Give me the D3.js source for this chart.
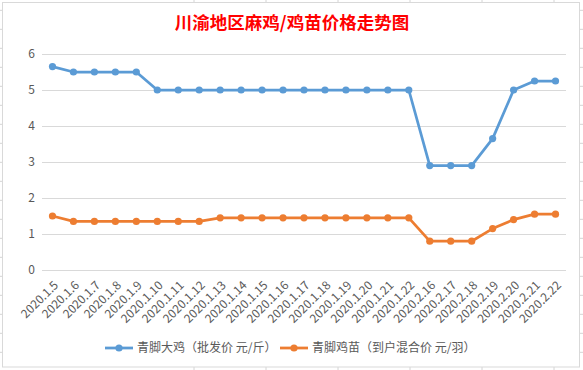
<!DOCTYPE html>
<html>
<head>
<meta charset="utf-8">
<script src="https://cdn.jsdelivr.net/npm/d3@7"></script>
<style>
  body { margin: 0; background: #fff; }
  svg { display: block; font-family: "Noto Sans CJK SC", "Noto Sans", sans-serif; }
</style>
</head>
<body>
<script>
var width = 583;
var height = 370;

// data
var dates = ["2020.1.5", "2020.1.6", "2020.1.7", "2020.1.8", "2020.1.9", "2020.1.10",
             "2020.1.11", "2020.1.12", "2020.1.13", "2020.1.14", "2020.1.15", "2020.1.16",
             "2020.1.17", "2020.1.18", "2020.1.19", "2020.1.20", "2020.1.21", "2020.1.22",
             "2020.2.16", "2020.2.17", "2020.2.18", "2020.2.19", "2020.2.20", "2020.2.21", "2020.2.22"];
var bigChicken = [5.65, 5.5, 5.5, 5.5, 5.5, 5.0, 5.0, 5.0, 5.0, 5.0, 5.0, 5.0,
                  5.0, 5.0, 5.0, 5.0, 5.0, 5.0, 2.9, 2.9, 2.9, 3.65, 5.0, 5.25, 5.25];
var chicks = [1.5, 1.35, 1.35, 1.35, 1.35, 1.35, 1.35, 1.35, 1.45, 1.45, 1.45, 1.45,
              1.45, 1.45, 1.45, 1.45, 1.45, 1.45, 0.8, 0.8, 0.8, 1.15, 1.4, 1.55, 1.55];
var yTicks = [0, 1, 2, 3, 4, 5, 6];
var seriesNames = ["青脚大鸡（批发价 元/斤）", "青脚鸡苗（到户混合价 元/羽）"];
var colors = ["#5b9bd5", "#ed7d31"];

var svg = d3.select("body").append("svg")
            .attr("width", width)
            .attr("height", height);

// spreadsheet cell lines peeking around the chart
var cellRows = d3.range(10.3, height, 19);
svg.selectAll(".cellL").data(cellRows).enter().append("line")
   .attr("x1", 0).attr("x2", 2.5).attr("y1", d => d).attr("y2", d => d)
   .attr("stroke", "#d4d4d4");
svg.selectAll(".cellR").data(cellRows).enter().append("line")
   .attr("x1", 580).attr("x2", 583).attr("y1", d => d).attr("y2", d => d)
   .attr("stroke", "#d4d4d4");
var cellCols = [194, 266, 338, 410, 482, 554];
svg.selectAll(".cellT").data(cellCols).enter().append("line")
   .attr("x1", d => d).attr("x2", d => d).attr("y1", 0).attr("y2", 2.5)
   .attr("stroke", "#d4d4d4");
svg.selectAll(".cellB").data(cellCols).enter().append("line")
   .attr("x1", d => d).attr("x2", d => d).attr("y1", 367).attr("y2", 370)
   .attr("stroke", "#d4d4d4");

// chart frame
svg.append("rect")
   .attr("x", 2.5).attr("y", 2.5)
   .attr("width", 577).attr("height", 364.5)
   .attr("fill", "#fff")
   .attr("stroke", "#d9d9d9");

// title
svg.append("text")
   .attr("x", 292).attr("y", 29)
   .attr("text-anchor", "middle")
   .attr("fill", "#ff0000")
   .attr("font-weight", "bold")
   .attr("font-size", 17.5)
   .text("川渝地区麻鸡/鸡苗价格走势图");

var x = d3.scalePoint().domain(dates).range([42, 566]).padding(0.5);
var y = d3.scaleLinear().domain([0, 6]).range([270, 54]);

// gridlines
svg.selectAll(".grid").data(yTicks).enter().append("line")
   .attr("x1", 42).attr("x2", 566)
   .attr("y1", d => y(d) + 0.5).attr("y2", d => y(d) + 0.5)
   .attr("stroke", "#d9d9d9").attr("stroke-width", 1);

// y axis labels
var yAxis = svg.append("g")
   .attr("transform", "translate(35,0)")
   .call(d3.axisLeft(y).tickValues(yTicks).tickFormat(d3.format("d")).tickSize(0).tickPadding(0));
yAxis.select(".domain").remove();
yAxis.selectAll("text").attr("fill", "#595959").attr("font-size", 12)
   .attr("font-family", "'Noto Sans CJK SC', sans-serif");

// x axis labels, rotated
var xAxis = svg.append("g")
   .attr("transform", "translate(0,270)")
   .call(d3.axisBottom(x).tickSize(0).tickPadding(0));
xAxis.select(".domain").remove();
xAxis.selectAll("text")
   .attr("fill", "#595959")
   .attr("font-size", 12)
   .attr("font-family", "'Noto Sans CJK SC', sans-serif")
   .attr("text-anchor", "end")
   .attr("dy", null)
   .attr("y", 0)
   .attr("transform", "translate(6,16) rotate(-45)");

// series
var line = d3.line().x((d, i) => x(dates[i])).y(d => y(d));
[bigChicken, chicks].forEach(function(vals, s) {
    svg.append("path")
       .datum(vals)
       .attr("d", line)
       .attr("fill", "none")
       .attr("stroke", colors[s])
       .attr("stroke-width", 2.75)
       .attr("stroke-linejoin", "round");
    svg.selectAll(".pt" + s).data(vals).enter().append("circle")
       .attr("cx", (d, i) => x(dates[i]))
       .attr("cy", d => y(d))
       .attr("r", 3.6)
       .attr("fill", colors[s]);
});

// legend
var legendX = [105, 280];
seriesNames.forEach(function(name, s) {
    var g = svg.append("g").attr("transform", "translate(" + legendX[s] + ",348)");
    g.append("line").attr("x1", 0).attr("x2", 28).attr("y1", 0).attr("y2", 0)
     .attr("stroke", colors[s]).attr("stroke-width", 2.75);
    g.append("circle").attr("cx", 14).attr("cy", 0).attr("r", 3.6).attr("fill", colors[s]);
    g.append("text").attr("x", 32).attr("y", 0).attr("dy", "0.36em")
     .attr("fill", "#595959").attr("font-size", 12)
     .text(name);
});
</script>
</body>
</html>
